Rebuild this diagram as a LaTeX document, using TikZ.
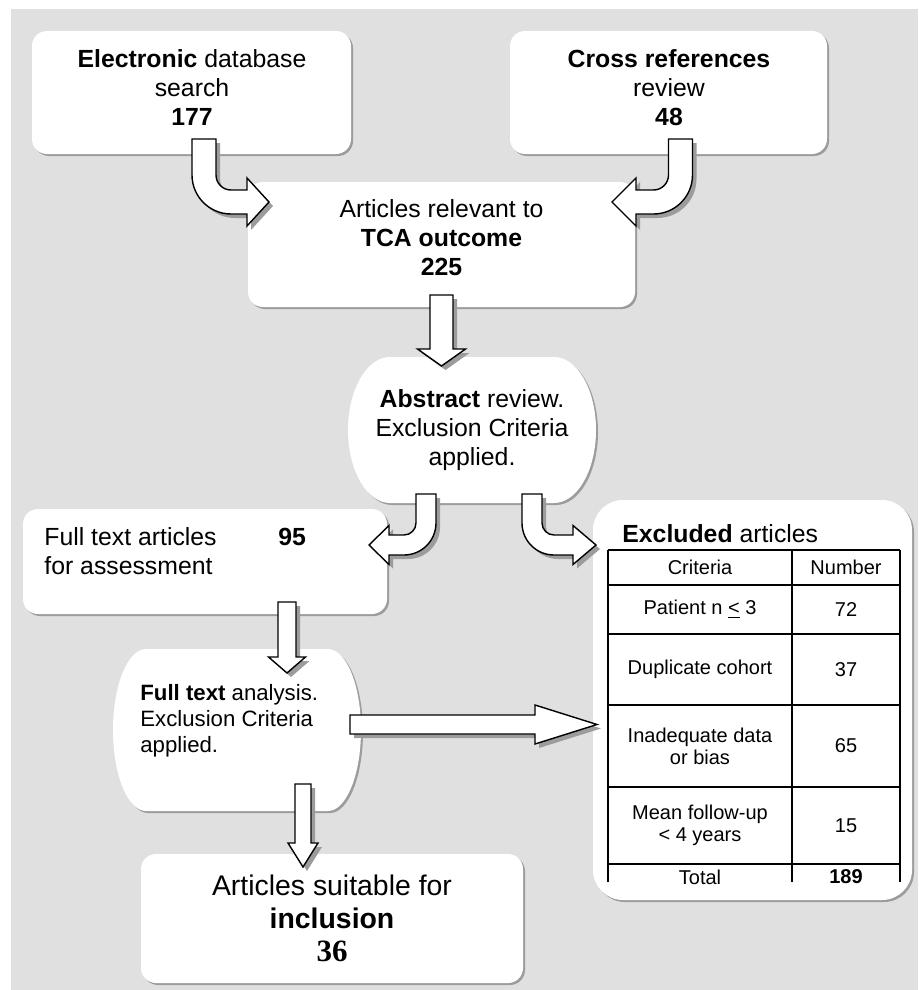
\documentclass[tikz,border=0pt]{standalone}
\usepackage{fontspec}
\setmainfont{Liberation Sans}
\newfontfamily\numserif{Liberation Serif}
\definecolor{bggray}{HTML}{E0E0E0}
\definecolor{shadowgray}{HTML}{9C9C9C}

\tikzset{
  panel/.style={fill=white, inner sep=0pt, rounded corners=7.5pt,
    preaction={fill=shadowgray, transform canvas={xshift=1pt,yshift=-1pt}}},
  panelshape/.style={fill=white,
    preaction={fill=shadowgray, transform canvas={xshift=1pt,yshift=-1pt}}},
  blockarrow/.style={draw=black, line width=0.7pt, fill=white, line join=miter,
    preaction={fill=shadowgray, transform canvas={xshift=2pt,yshift=-2pt}}},
  maintext/.style={font=\fontsize{12.4}{14.5}\selectfont, align=center, inner sep=0pt},
  smalltext/.style={font=\fontsize{11.1}{13}\selectfont, inner sep=0pt},
  bigtext/.style={font=\fontsize{14.2}{16.5}\selectfont, align=center, inner sep=0pt},
  celltext/.style={font=\fontsize{10}{11}\selectfont, align=center, inner sep=0pt},
  tablerule/.style={line width=0.85pt}
}

% bent block arrow: cx, ytop, dir, half width, inner radius, y of head, head half height, head length, x of tip
\newcommand{\bentblock}[9]{%
  \draw[blockarrow] ({#1-(#3)*#4},#2) -- ({#1-(#3)*#4},{#6-#4-#5})
    .. controls ({#1-(#3)*#4},{#6-#4-#5+0.5523*(#5+2*#4)}) and ({#1+(#3)*(#4+#5)-(#3)*0.5523*(#5+2*#4)},{#6+#4}) .. ({#1+(#3)*(#4+#5)},{#6+#4})
    -- ({#9-(#3)*#8},{#6+#4}) -- ({#9-(#3)*#8},{#6+#7}) -- (#9,#6)
    -- ({#9-(#3)*#8},{#6-#7}) -- ({#9-(#3)*#8},{#6-#4}) -- ({#1+(#3)*(#4+#5)},{#6-#4})
    .. controls ({#1+(#3)*(#4+#5)-(#3)*0.5523*#5},{#6-#4}) and ({#1+(#3)*#4},{#6-#4-#5+0.5523*#5}) .. ({#1+(#3)*#4},{#6-#4-#5})
    -- ({#1+(#3)*#4},#2) -- cycle;}
% straight block arrows
\newcommand{\vblock}[6]{%
  \draw[blockarrow] ({#1-#3},#2) -- ({#1-#3},#4) -- ({#1-#5},#4) -- (#1,#6)
    -- ({#1+#5},#4) -- ({#1+#3},#4) -- ({#1+#3},#2) -- cycle;}
\newcommand{\hblock}[6]{%
  \draw[blockarrow] (#1,{#2-#3}) -- (#4,{#2-#3}) -- (#4,{#2-#5}) -- (#6,#2)
    -- (#4,{#2+#5}) -- (#4,{#2+#3}) -- (#1,{#2+#3}) -- cycle;}

\begin{document}
\begin{tikzpicture}[x=0.5pt,y=-0.5pt]
\useasboundingbox (0,0) rectangle (918,990);
\fill[bggray] (11,9) rectangle (918,990);

% boxes
\node[panel, minimum width=159.5pt, minimum height=61.5pt] (elec) at (191.5,92.5) {};
\node[panel, minimum width=158.5pt, minimum height=61.5pt] (cross) at (668.5,92.5) {};
\node[panel, minimum width=193.5pt, minimum height=62.5pt] (relev) at (441.5,244.5) {};
\node[panel, minimum width=182pt, minimum height=52.5pt] (fulltxt) at (205,561.5) {};
\node[panel, minimum width=191pt, minimum height=64.5pt] (incl) at (332,918.5) {};
\node[panel, rounded corners=15pt, minimum width=159.5pt, minimum height=200pt] (excl) at (752.5,700) {};
\path[panelshape] (390,357) arc[start angle=90, end angle=270, x radius=21pt, y radius=36.5pt]
  -- (554,503) arc[start angle=-90, end angle=90, x radius=21pt, y radius=36.5pt] -- cycle;
\path[panelshape] (146,649) arc[start angle=90, end angle=270, x radius=16.5pt, y radius=40.5pt]
  -- (328,811) arc[start angle=-90, end angle=90, x radius=16.5pt, y radius=40.5pt] -- cycle;

% texts
\node[maintext] (elec-txt) at (192,88) {\textbf{Electronic} database\\search\\\textbf{177}};
\node[maintext] (cross-txt) at (669,88) {\textbf{Cross references}\\review\\\textbf{48}};
\node[maintext] (relev-txt) at (441.5,238) {Articles relevant to\\\textbf{TCA outcome}\\\textbf{225}};
\node[maintext] (abstr) at (472,430) {\textbf{Abstract} review.\\Exclusion Criteria\\applied.};
\node[maintext, align=left, anchor=north west] (fulltxt-txt) at (44,527) {Full text articles\\for assessment};
\node[maintext, anchor=base west] (fulltxt-num) at (278,545) {\textbf{95}};
\node[smalltext, align=left, anchor=north west] (analysis) at (140,684) {\textbf{Full text} analysis.\\Exclusion Criteria\\applied.};
\node[bigtext] (incl-txt) at (332,918.5) {Articles suitable for\\\textbf{inclusion}\\{\numserif\bfseries\fontsize{15.5}{16.5}\selectfont 36}};
\node[maintext, anchor=base west] (excl-title) at (622,542) {\textbf{Excluded} articles};

% table of excluded articles
\draw[tablerule] (608,550) -- (900,550);
\draw[tablerule] (608,585) -- (900,585);
\draw[tablerule] (608,634) -- (900,634);
\draw[tablerule] (608,705) -- (900,705);
\draw[tablerule] (608,787) -- (900,787);
\draw[tablerule] (608,864) -- (900,864);
\draw[tablerule] (608,550) -- (608,882);
\draw[tablerule] (792,550) -- (792,882);
\draw[tablerule] (900,550) -- (900,882);
\node[celltext] (crit-head) at (700,567.5) {Criteria};
\node[celltext] (num-head) at (846,567.5) {Number};
\node[celltext] (crit-a) at (700,609.5) {Patient n \underline{<} 3};
\node[celltext] (num-a) at (846,609.5) {72};
\node[celltext] (crit-b) at (700,669.5) {Duplicate cohort};
\node[celltext] (num-b) at (846,669.5) {37};
\node[celltext] (crit-c) at (700,746) {Inadequate data\\or bias};
\node[celltext] (num-c) at (846,746) {65};
\node[celltext] (crit-d) at (700,825.5) {Mean follow-up\\< 4 years};
\node[celltext] (num-d) at (846,825.5) {15};
\node[celltext] (crit-total) at (700,877) {Total};
\node[celltext] (num-total) at (846,877) {\textbf{189}};

% block arrows
\bentblock{204}{139}{1}{12}{15}{202}{24}{22}{269}
\bentblock{680.5}{139}{-1}{12}{15}{202}{24}{24}{612}
\vblock{441.5}{295}{11.5}{349}{24}{366}
\bentblock{426}{494}{-1}{10}{12}{545}{19.5}{20}{369}
\bentblock{532}{494}{1}{10}{12}{545}{19.5}{23}{596}
\vblock{287}{602}{9}{657}{18.5}{673}
\vblock{303}{784}{8}{843}{15}{867}
\hblock{350}{724.5}{9.5}{535}{19.5}{597}
\end{tikzpicture}
\end{document}
